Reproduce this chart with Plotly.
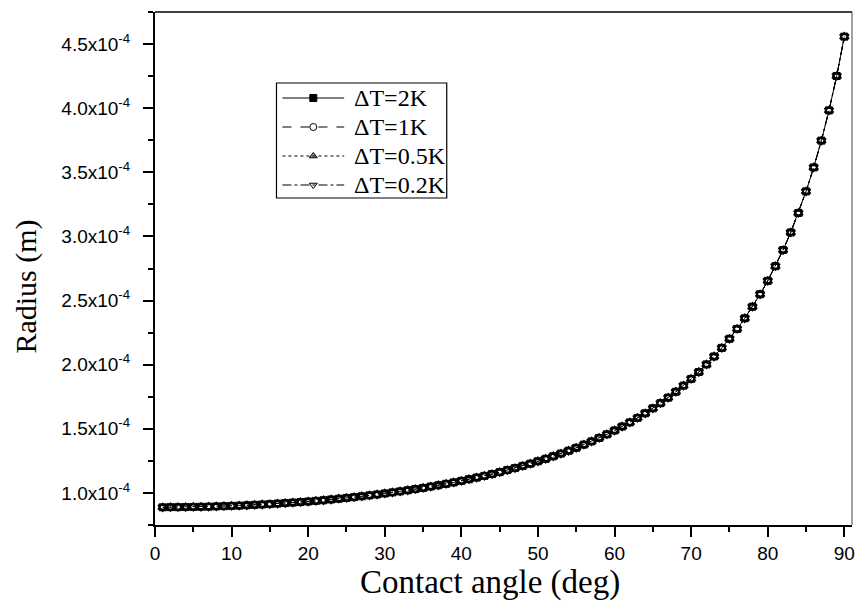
import plotly.graph_objects as go

# ---------------- data ----------------
contact_angle_deg = list(range(1, 91))

# radius in units of 1e-4 m, one value per degree (1..90)
radius_2K_e4 = [
    0.888, 0.889, 0.889, 0.890, 0.891, 0.892, 0.893, 0.895, 0.897, 0.899,
    0.901, 0.904, 0.907, 0.910, 0.913, 0.917, 0.921, 0.925, 0.929, 0.933,
    0.938, 0.943, 0.949, 0.955, 0.961, 0.967, 0.974, 0.981, 0.988, 0.996,
    1.004, 1.012, 1.021, 1.030, 1.039, 1.050, 1.060, 1.071, 1.082, 1.094,
    1.107, 1.120, 1.133, 1.147, 1.162, 1.178, 1.194, 1.211, 1.228, 1.247,
    1.266, 1.286, 1.307, 1.329, 1.352, 1.377, 1.402, 1.429, 1.457, 1.487,
    1.518, 1.550, 1.585, 1.621, 1.660, 1.700, 1.743, 1.789, 1.837, 1.889,
    1.943, 2.002, 2.064, 2.131, 2.202, 2.279, 2.362, 2.452, 2.549, 2.654,
    2.768, 2.894, 3.031, 3.183, 3.351, 3.538, 3.747, 3.983, 4.251, 4.558,
]
radius_1K_e4 = list(radius_2K_e4)
radius_05K_e4 = list(radius_2K_e4)
radius_02K_e4 = list(radius_2K_e4)

series_names = ["\u0394T=2K", "\u0394T=1K", "\u0394T=0.5K", "\u0394T=0.2K"]
series_values = [radius_2K_e4, radius_1K_e4, radius_05K_e4, radius_02K_e4]

x_tick_vals = [0, 10, 20, 30, 40, 50, 60, 70, 80, 90]
x_minor_vals = [5, 15, 25, 35, 45, 55, 65, 75, 85]
y_tick_mant = [1.0, 1.5, 2.0, 2.5, 3.0, 3.5, 4.0, 4.5]
y_minor_mant = [0.75, 1.25, 1.75, 2.25, 2.75, 3.25, 3.75, 4.25, 4.75]

# ---------------- styles ----------------
dashes = ["solid", "dash", "dot", "dashdot"]
markers = [
    dict(symbol="square", size=7, color="black", line=dict(color="black", width=1)),
    dict(symbol="circle", size=6, color="white", line=dict(color="black", width=1.2)),
    dict(symbol="triangle-up-open", size=8, color="black", line=dict(color="black", width=1.4)),
    dict(symbol="triangle-down-open", size=8, color="black", line=dict(color="black", width=1.4)),
]
legend_markers = [
    dict(symbol="square", size=7, color="black", line=dict(color="black", width=1)),
    dict(symbol="circle", size=7, color="white", line=dict(color="black", width=1)),
    dict(symbol="triangle-up", size=7, color="#999999", line=dict(color="black", width=1)),
    dict(symbol="triangle-down", size=7, color="white", line=dict(color="black", width=1)),
]

fig = go.Figure()

for name, vals, dsh, mk in zip(series_names, series_values, dashes, markers):
    fig.add_trace(go.Scatter(
        x=contact_angle_deg,
        y=[v * 1e-4 for v in vals],
        mode="lines+markers",
        name=name,
        line=dict(color="black", width=1, dash=dsh),
        marker=mk,
        showlegend=False,
        cliponaxis=False,
    ))

# ---------------- manual legend (paper coordinates via overlay axes) ----------------
L, R_, T, B = 155, 855, 12, 525
W, H = R_ - L, B - T


def px(xp):
    return (xp - L) / W


def py(yp):
    return (B - yp) / H


shapes = []
annotations = []
box = dict(x0=277, x1=448, y0=83, y1=198)
shapes.append(dict(type="rect", xref="paper", yref="paper",
                   x0=px(box["x0"]), x1=px(box["x1"]), y0=py(box["y1"]), y1=py(box["y0"]),
                   line=dict(color="black", width=1.2), fillcolor="rgba(0,0,0,0)"))
row_y = [98, 127, 156, 185]
for name, yy, dsh, mk in zip(series_names, row_y, dashes, legend_markers):
    shapes.append(dict(type="line", xref="paper", yref="paper",
                       x0=px(283), x1=px(345), y0=py(yy), y1=py(yy),
                       line=dict(color="black", width=1, dash=dsh)))
    fig.add_trace(go.Scatter(x=[px(314)], y=[py(yy)], xaxis="x2", yaxis="y2",
                             mode="markers", marker=mk, showlegend=False, hoverinfo="skip"))
    annotations.append(dict(xref="paper", yref="paper", x=px(353), y=py(yy),
                            xanchor="left", yanchor="middle", showarrow=False, text=name,
                            font=dict(family="Liberation Serif", size=24, color="black")))

# top and right frame lines (thin)
shapes.append(dict(type="line", xref="paper", yref="paper", x0=0, x1=1, y0=1, y1=1,
                   line=dict(color="black", width=1.3)))
shapes.append(dict(type="line", xref="paper", yref="paper", x0=1, x1=1, y0=0, y1=1,
                   line=dict(color="#444444", width=1)))

# axis titles
annotations.append(dict(xref="paper", yref="paper", x=px(491), y=py(582), xanchor="center",
                        yanchor="middle", showarrow=False, text="Contact angle (deg)",
                        font=dict(family="Liberation Serif", size=33, color="black")))
annotations.append(dict(xref="paper", yref="paper", x=px(25), y=py(287), xanchor="center",
                        yanchor="middle", showarrow=False, text="Radius (m)", textangle=-90,
                        font=dict(family="Liberation Serif", size=30, color="black")))

tick_font = dict(family="Liberation Sans", size=19, color="black")

fig.update_layout(
    width=860, height=602,
    margin=dict(l=L, r=860 - R_, t=T, b=602 - B),
    paper_bgcolor="white", plot_bgcolor="white",
    showlegend=False,
    shapes=shapes, annotations=annotations,
    xaxis=dict(
        range=[0, 91], tickmode="array", tickvals=x_tick_vals,
        ticktext=[str(v) for v in x_tick_vals],
        ticks="outside", ticklen=10, tickwidth=2, tickcolor="black",
        showline=True, linewidth=2, linecolor="black",
        showgrid=False, zeroline=False, tickfont=tick_font,
        minor=dict(tickmode="array", tickvals=x_minor_vals, ticks="outside",
                   ticklen=5, tickwidth=2, tickcolor="black", showgrid=False),
    ),
    yaxis=dict(
        range=[0.75e-4, 4.75e-4], tickmode="array",
        tickvals=[v * 1e-4 for v in y_tick_mant],
        ticktext=[f"{v:.1f}x10<sup>-4</sup>" for v in y_tick_mant],
        ticks="outside", ticklen=10, tickwidth=2, tickcolor="black",
        ticklabelstandoff=9,
        showline=True, linewidth=2, linecolor="black",
        showgrid=False, zeroline=False, tickfont=tick_font,
        minor=dict(tickmode="array", tickvals=[v * 1e-4 for v in y_minor_mant],
                   ticks="outside", ticklen=5, tickwidth=2, tickcolor="black", showgrid=False),
    ),
    xaxis2=dict(overlaying="x", range=[0, 1], visible=False, anchor="y2"),
    yaxis2=dict(overlaying="y", range=[0, 1], visible=False, anchor="x2"),
)

fig.write_html("out.html")
